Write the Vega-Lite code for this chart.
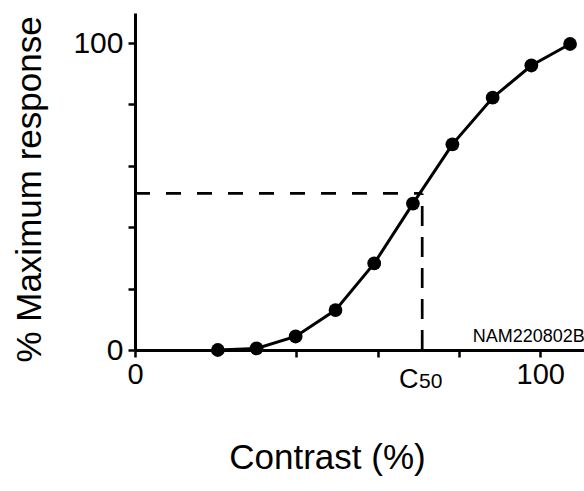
{
  "$schema": "https://vega.github.io/schema/vega-lite/v6.json",
  "width": 449,
  "height": 337,
  "autosize": {"type": "none"},
  "padding": {"left": 135, "top": 13, "right": 0, "bottom": 141},
  "background": "white",
  "config": {
    "view": {"stroke": null},
    "font": "Liberation Sans",
    "axis": {
      "domainColor": "black", "domainWidth": 3, "tickColor": "black", "tickWidth": 2.5, "tickSize": 7,
      "labelColor": "black", "titleColor": "black", "grid": false, "labelFont": "Liberation Sans", "titleFont": "Liberation Sans",
      "titleFontWeight": "normal"
    }
  },
  "datasets": {
    "curve": [
      {"pos": 2.14, "resp": 0},
      {"pos": 3.14, "resp": 0.5},
      {"pos": 4.15, "resp": 4.4},
      {"pos": 5.18, "resp": 13},
      {"pos": 6.18, "resp": 28.2},
      {"pos": 7.18, "resp": 47.7},
      {"pos": 8.2, "resp": 67},
      {"pos": 9.24, "resp": 82.2},
      {"pos": 10.24, "resp": 92.7},
      {"pos": 11.24, "resp": 99.7}
    ],
    "hdash": [{"x1": 0, "x2": 7.42, "y": 51}],
    "vdash": [{"x": 7.42, "y1": 0, "y2": 51}],
    "note": [{"x": 11.62, "y": 2.7, "t": "NAM220802B"}],
    "c50": [{"x": 6.82, "y": -12.4, "t": "C"}],
    "c50sub": [{"x": 7.34, "y": -12.4, "t": "50"}]
  },
  "layer": [
    {
      "data": {"name": "hdash"},
      "mark": {"type": "rule", "strokeDash": [15, 16], "strokeWidth": 2.7, "color": "black"},
      "encoding": {
        "x": {"field": "x1", "type": "quantitative",
          "scale": {"domain": [0, 11.6], "nice": false, "zero": false},
          "axis": {
            "values": [0, 4.16, 6.28, 8.37, 10.47],
            "labelExpr": "datum.value == 0 ? '0' : (datum.value == 10.47 ? '100' : '')",
            "labelFontSize": 29, "labelPadding": 3, "labelFlush": false,
            "title": "Contrast (%)", "titleFontSize": 35, "titleX": 192, "titleY": 118,
            "titleBaseline": "alphabetic", "titleAnchor": "middle", "titleAlign": "center"
          }},
        "x2": {"field": "x2"},
        "y": {"field": "y", "type": "quantitative",
          "scale": {"domain": [0, 109.8], "nice": false, "zero": false},
          "axis": {
            "values": [0, 20, 40, 60, 80, 100],
            "labelExpr": "datum.value == 0 || datum.value == 100 ? datum.value + '' : ''",
            "labelFontSize": 30, "labelPadding": 5, "labelFlush": false,
            "title": "% Maximum response", "titleFontSize": 35, "titleX": -95, "titleY": 176,
            "titleBaseline": "alphabetic", "titleAlign": "center", "titleAngle": -90
          }}
      }
    },
    {
      "data": {"name": "vdash"},
      "mark": {"type": "rule", "strokeDash": [20, 11], "strokeWidth": 2.7, "color": "black"},
      "encoding": {
        "x": {"field": "x", "type": "quantitative"},
        "y": {"field": "y1", "type": "quantitative"},
        "y2": {"field": "y2"}
      }
    },
    {
      "data": {"name": "curve"},
      "mark": {"type": "line", "color": "black", "strokeWidth": 3},
      "encoding": {
        "x": {"field": "pos", "type": "quantitative"},
        "y": {"field": "resp", "type": "quantitative"}
      }
    },
    {
      "data": {"name": "curve"},
      "mark": {"type": "point", "filled": true, "color": "black", "opacity": 1, "size": 190},
      "encoding": {
        "x": {"field": "pos", "type": "quantitative"},
        "y": {"field": "resp", "type": "quantitative"}
      }
    },
    {
      "data": {"name": "note"},
      "mark": {"type": "text", "align": "right", "baseline": "alphabetic", "fontSize": 18, "font": "Liberation Sans", "color": "black"},
      "encoding": {
        "x": {"field": "x", "type": "quantitative"},
        "y": {"field": "y", "type": "quantitative"},
        "text": {"field": "t"}
      }
    },
    {
      "data": {"name": "c50"},
      "mark": {"type": "text", "align": "left", "baseline": "alphabetic", "fontSize": 27, "font": "Liberation Sans", "color": "black"},
      "encoding": {
        "x": {"field": "x", "type": "quantitative"},
        "y": {"field": "y", "type": "quantitative"},
        "text": {"field": "t"}
      }
    },
    {
      "data": {"name": "c50sub"},
      "mark": {"type": "text", "align": "left", "baseline": "alphabetic", "fontSize": 21, "font": "Liberation Sans", "color": "black"},
      "encoding": {
        "x": {"field": "x", "type": "quantitative"},
        "y": {"field": "y", "type": "quantitative"},
        "text": {"field": "t"}
      }
    }
  ]
}
